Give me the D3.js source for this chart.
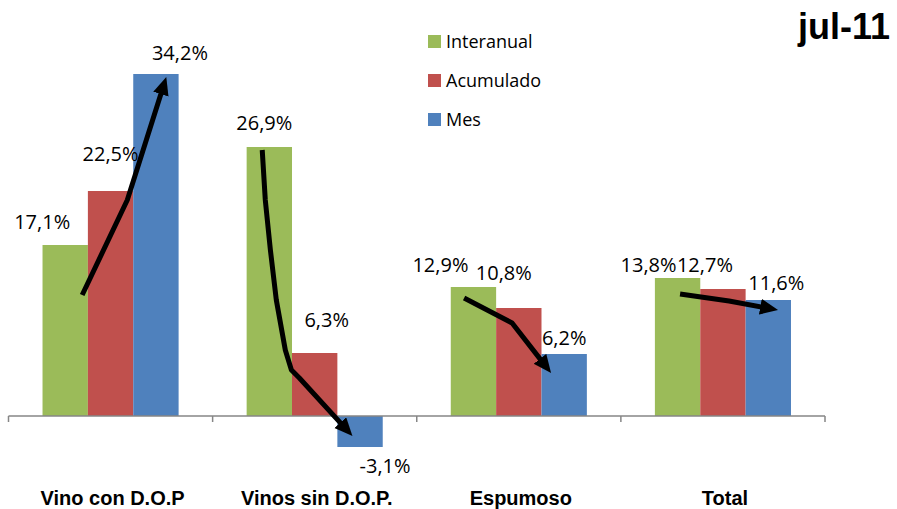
<!DOCTYPE html>
<html>
<head>
<meta charset="utf-8">
<script src="https://cdn.jsdelivr.net/npm/d3@7"></script>
<style>
  html, body { margin: 0; padding: 0; background: #fff; }
  svg { display: block; }
</style>
</head>
<body>
<svg id="chart" width="897" height="509"></svg>
<script>
// ---- data ----
const title = "jul-11";
const categories = ["Vino con D.O.P", "Vinos sin D.O.P.", "Espumoso", "Total"];
const seriesNames = ["Interanual", "Acumulado", "Mes"];
const interanual = [17.1, 26.9, 12.9, 13.8];
const acumulado  = [22.5, 6.3, 10.8, 12.7];
const mes        = [34.2, -3.1, 6.2, 11.6];

// label nudges (layout only): [dx, dy] relative to bar centre / bar end
const labelNudge = [
  [[-23, -16], [0, -30], [24, -14]],
  [[-5, -17], [12, -26], [25, 26]],
  [[-33, -15], [-15, -28], [0, -9]],
  [[-29, -6], [-18, -17], [8, -10]]
];

// trend arrows in data space: [category index + fraction of band, value %]
const arrows = [
  [[0.361, 12.1], [0.582, 21.6], [0.773, 33.9]],
  [[1.243, 26.6], [1.258, 21.6], [1.283, 16.6], [1.312, 11.6], [1.356, 6.6], [1.386, 4.6], [1.425, 3.8], [1.685, -2.0]],
  [[2.232, 11.8], [2.467, 9.3], [2.658, 4.3]],
  [[3.290, 12.2], [3.530, 11.5], [3.770, 10.6]]
];

const colors = ["#9BBB59", "#C0504D", "#4F81BD"];
const seriesValues = [interanual, acumulado, mes];

// ---- layout ----
const svg = d3.select("#chart");
const plotLeft = 8.5, plotRight = 825;
const x = d3.scaleBand().domain(categories.map((d, i) => i)).range([plotLeft, plotRight]).paddingInner(0).paddingOuter(0);
const xs = d3.scaleBand().domain(seriesNames).range([0, x.bandwidth()]).paddingInner(0).paddingOuter(0.75);
const y = d3.scaleLinear().domain([-4, 36]).range([456, 56]);
const xCont = v => plotLeft + v * x.bandwidth();

const fmt = v => d3.format(".1f")(v).replace("\u2212", "-").replace(".", ",") + "%";

// bars
const data = [];
categories.forEach((c, ci) => {
  seriesNames.forEach((s, si) => {
    data.push({ ci, si, value: seriesValues[si][ci] });
  });
});

svg.append("g").selectAll("rect").data(data).join("rect")
  .attr("x", d => x(d.ci) + xs(seriesNames[d.si]))
  .attr("width", xs.bandwidth())
  .attr("y", d => y(Math.max(0, d.value)))
  .attr("height", d => Math.abs(y(d.value) - y(0)))
  .attr("fill", d => colors[d.si]);

// axis
const axisG = svg.append("g").attr("transform", `translate(0,${y(0)})`);
const tickXs = d3.range(categories.length + 1).map(i => plotLeft + i * x.bandwidth());
axisG.append("line").attr("x1", plotLeft).attr("x2", plotRight).attr("y1", 0).attr("y2", 0)
  .attr("stroke", "#868686").attr("stroke-width", 1.5);
axisG.selectAll("line.tick").data(tickXs).join("line").attr("class", "tick")
  .attr("x1", d => d).attr("x2", d => d).attr("y1", 0).attr("y2", 6)
  .attr("stroke", "#868686").attr("stroke-width", 1.5);

// category labels
svg.append("g").selectAll("text").data(categories).join("text")
  .attr("x", (d, i) => x(i) + x.bandwidth() / 2 + 2)
  .attr("y", 505)
  .attr("text-anchor", "middle")
  .attr("font-family", "'Liberation Sans', Arial, sans-serif")
  .attr("font-weight", "bold")
  .attr("font-size", 20)
  .attr("fill", "#000")
  .text(d => d);

// data labels
svg.append("g").selectAll("text").data(data).join("text")
  .attr("x", d => x(d.ci) + xs(seriesNames[d.si]) + xs.bandwidth() / 2 + labelNudge[d.ci][d.si][0])
  .attr("y", d => y(d.value) + labelNudge[d.ci][d.si][1])
  .attr("text-anchor", "middle")
  .attr("font-family", "'Open Sans', sans-serif")
  .attr("font-size", 20)
  .attr("fill", "#000")
  .text(d => fmt(d.value));

// arrows
const defs = svg.append("defs");
defs.append("marker")
  .attr("id", "ah")
  .attr("markerUnits", "userSpaceOnUse")
  .attr("markerWidth", 20).attr("markerHeight", 18)
  .attr("refX", 8).attr("refY", 8)
  .attr("orient", "auto")
  .append("path").attr("d", "M0,0 L18,8 L0,16 Z").attr("fill", "#000");

const line = d3.line().curve(d3.curveLinear);
arrows.forEach(a => {
  const pts = a.map(p => [xCont(p[0]), y(p[1])]);
  // shorten last segment so arrowhead tip lands on final point
  const n = pts.length;
  const [x1, y1] = pts[n - 2], [x2, y2] = pts[n - 1];
  const len = Math.hypot(x2 - x1, y2 - y1);
  const k = 10 / len;
  pts[n - 1] = [x2 - (x2 - x1) * k, y2 - (y2 - y1) * k];
  svg.append("path")
    .attr("d", line(pts))
    .attr("fill", "none")
    .attr("stroke", "#000")
    .attr("stroke-width", 5)
    .attr("stroke-linejoin", "round")
    .attr("marker-end", "url(#ah)");
});

// legend
const legend = svg.append("g").attr("transform", "translate(428,35)");
seriesNames.forEach((s, i) => {
  const g = legend.append("g").attr("transform", `translate(0,${i * 39})`);
  g.append("rect").attr("width", 13).attr("height", 13).attr("fill", colors[i]);
  g.append("text").attr("x", 18).attr("y", 13)
    .attr("font-family", "'Open Sans', sans-serif")
    .attr("font-size", 18).attr("fill", "#000").text(s);
});

// title
svg.append("text")
  .attr("x", 890).attr("y", 39)
  .attr("text-anchor", "end")
  .attr("font-family", "'Liberation Sans', Arial, sans-serif")
  .attr("font-weight", "bold")
  .attr("font-size", 36)
  .attr("fill", "#000")
  .text(title);
</script>
</body>
</html>
